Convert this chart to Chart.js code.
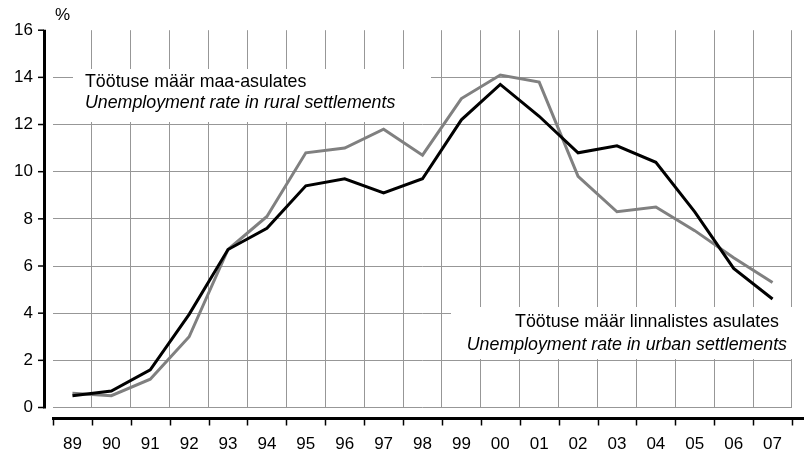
<!DOCTYPE html>
<html>
<head>
<meta charset="utf-8">
<script src="https://cdn.jsdelivr.net/npm/chart.js@4/dist/chart.umd.min.js"></script>
<style>
html,body{margin:0;padding:0;overflow:hidden;background:#fff;}
canvas{display:block;}
</style>
</head>
<body>
<canvas id="c" width="809" height="454"></canvas>
<script>
const years = ['89','90','91','92','93','94','95','96','97','98','99','00','01','02','03','04','05','06','07'];
const urban = [0.5,0.7,1.6,3.95,6.7,7.6,9.4,9.7,9.1,9.7,12.2,13.7,12.35,10.8,11.1,10.4,8.3,5.9,4.6];
const rural = [0.6,0.5,1.2,3.0,6.7,8.1,10.8,11.0,11.8,10.7,13.1,14.1,13.8,9.8,8.3,8.5,7.5,6.35,5.3];
const yTicks = [0,2,4,6,8,10,12,14,16];
const ruralLabel = ['Töötuse määr maa-asulates','Unemployment rate in rural settlements'];
const urbanLabel = ['Töötuse määr linnalistes asulates','Unemployment rate in urban settlements'];
const unitLabel = '%';

const FONT = '"Liberation Sans", Arial, sans-serif';

const decor = {
  id: 'decor',
  beforeDatasetsDraw(chart) {
    const ctx = chart.ctx;
    ctx.save();
    ctx.fillStyle = '#fff';
    ctx.fillRect(73, 69, 358, 53);
    ctx.fillRect(451, 307, 360, 52);
    ctx.fillStyle = '#000';
    ctx.textBaseline = 'alphabetic';
    ctx.textAlign = 'left';
    ctx.font = '17.8px ' + FONT;
    ctx.fillText(ruralLabel[0], 85, 87);
    ctx.font = 'italic 17.8px ' + FONT;
    ctx.fillText(ruralLabel[1], 85, 108);
    ctx.textAlign = 'right';
    ctx.font = '17.8px ' + FONT;
    ctx.fillText(urbanLabel[0], 779, 327);
    ctx.font = 'italic 17.8px ' + FONT;
    ctx.fillText(urbanLabel[1], 787, 350);
    ctx.restore();
  },
  afterDraw(chart) {
    const ctx = chart.ctx;
    const xs = chart.scales.x, ys = chart.scales.y;
    ctx.save();
    ctx.strokeStyle = '#000';
    // y axis line
    const yTop = ys.getPixelForValue(16), yBot = ys.getPixelForValue(0);
    ctx.lineWidth = 3;
    ctx.beginPath();
    ctx.moveTo(44.5, yTop - 0.5);
    ctx.lineTo(44.5, yBot + 1);
    ctx.stroke();
    ctx.lineWidth = 1.5;
    yTicks.forEach(v => {
      const p = ys.getPixelForValue(v);
      ctx.beginPath();
      ctx.moveTo(38, p);
      ctx.lineTo(44, p);
      ctx.stroke();
    });
    // x axis line
    const axY = yBot + 11;
    ctx.lineWidth = 3;
    ctx.beginPath();
    ctx.moveTo(xs.left - 1, axY);
    ctx.lineTo(chart.width, axY);
    ctx.stroke();
    ctx.lineWidth = 1.5;
    const half = (xs.getPixelForValue(1) - xs.getPixelForValue(0)) / 2;
    for (let i = 0; i <= years.length; i++) {
      const p = Math.round(xs.getPixelForValue(i) - half) + 0.5;
      ctx.beginPath();
      ctx.moveTo(p, axY + 1.5);
      ctx.lineTo(p, axY + 7);
      ctx.stroke();
    }
    // unit label
    ctx.fillStyle = '#000';
    ctx.font = '17px ' + FONT;
    ctx.textAlign = 'left';
    ctx.textBaseline = 'alphabetic';
    ctx.fillText(unitLabel, 55, 20);
    ctx.restore();
  }
};

new Chart(document.getElementById('c'), {
  type: 'line',
  data: {
    labels: years,
    datasets: [
      { label: urbanLabel[1], data: urban, borderColor: '#000', borderWidth: 3, pointRadius: 0, tension: 0, fill: false },
      { label: ruralLabel[1], data: rural, borderColor: '#808080', borderWidth: 3, pointRadius: 0, tension: 0, fill: false }
    ]
  },
  options: {
    responsive: false,
    animation: false,
    devicePixelRatio: 1,
    layout: { padding: { top: 30, right: 0, left: 0, bottom: 0 } },
    plugins: { legend: { display: false }, tooltip: { enabled: false } },
    scales: {
      x: {
        type: 'category',
        offset: true,
        border: { display: false },
        grid: {
          offset: true,
          drawTicks: false,
          color: ctx => ctx.index === 0 ? 'rgba(0,0,0,0)' : '#979797',
          lineWidth: 1
        },
        ticks: { color: '#000', font: { family: FONT, size: 17 }, padding: 27, maxRotation: 0, autoSkip: false },
        afterFit: s => { s.height = 46.5; }
      },
      y: {
        min: 0, max: 16,
        border: { display: false },
        grid: {
          drawTicks: false,
          color: ctx => (ctx.tick && ctx.tick.value === 16) ? 'rgba(0,0,0,0)' : '#979797',
          lineWidth: 1
        },
        ticks: { stepSize: 2, color: '#000', font: { family: FONT, size: 17 }, padding: 20 },
        afterFit: s => { s.width = 53; }
      }
    }
  },
  plugins: [decor]
});
</script>
</body>
</html>
